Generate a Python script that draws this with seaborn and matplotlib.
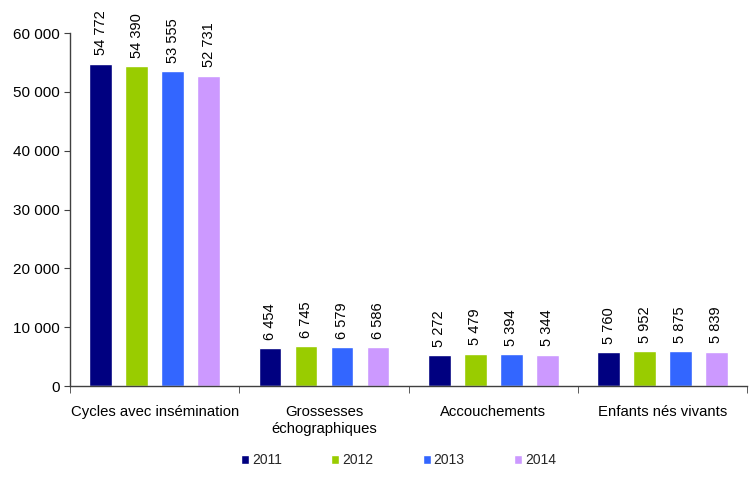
import matplotlib
matplotlib.use("Agg")
import matplotlib.pyplot as plt
import seaborn as sns
import pandas as pd
from matplotlib.ticker import FuncFormatter, FixedLocator

categories = ["Cycles avec insémination", "Grossesses\néchographiques", "Accouchements", "Enfants nés vivants"]
years = ["2011", "2012", "2013", "2014"]
v2011 = [54772, 6454, 5272, 5760]
v2012 = [54390, 6745, 5479, 5952]
v2013 = [53555, 6579, 5394, 5875]
v2014 = [52731, 6586, 5344, 5839]
colors = ["#000080", "#99CC00", "#3366FF", "#CC99FF"]

rows = []
for y, vals in zip(years, [v2011, v2012, v2013, v2014]):
    for c, v in zip(categories, vals):
        rows.append({"cat": c, "year": y, "value": v})
df = pd.DataFrame(rows)

sns.set_style("white")
plt.rcParams["font.family"] = ["Liberation Sans", "DejaVu Sans"]

fig = plt.figure(figsize=(7.49, 4.95), dpi=100)
ax = fig.add_axes([0.0935, 0.2202, 0.904, 0.7131])

sns.barplot(data=df, x="cat", y="value", hue="year", palette=colors,
            width=0.85, gap=0.37, ax=ax, legend=True, saturation=1)

def fmt(v):
    return f"{int(round(v)):,}".replace(",", " ")

for cont in ax.containers:
    ax.bar_label(cont, labels=[fmt(b.get_height()) for b in cont], rotation=90,
                 padding=6, fontsize=10.5, color="black")

ax.set_ylim(0, 60000)
ax.set_xlim(-0.5, 3.5)
ax.set_yticks(range(0, 60001, 10000))
ax.yaxis.set_major_formatter(FuncFormatter(lambda v, p: fmt(v)))
ax.set_xlabel("")
ax.set_ylabel("")
ax.tick_params(axis="y", labelsize=11, length=4, direction="out", left=True, colors="#404040", labelcolor="black")
ax.tick_params(axis="x", labelsize=10.7, length=0, pad=14, labelcolor="black")
ax.xaxis.set_minor_locator(FixedLocator([-0.5, 0.5, 1.5, 2.5, 3.5]))
ax.tick_params(axis="x", which="minor", length=5, bottom=True, color="#404040", direction="out")
for s in ["top", "right"]:
    ax.spines[s].set_visible(False)
for s in ["left", "bottom"]:
    ax.spines[s].set_color("#404040")
    ax.spines[s].set_linewidth(1)

h, l = ax.get_legend_handles_labels()
ax.get_legend().remove()
fig.legend(h, l, loc="center", bbox_to_anchor=(0.532, 0.07), ncol=4, frameon=False,
           fontsize=10, handlelength=0.6, handleheight=0.6, handletextpad=0.2, columnspacing=3.55)

fig.savefig("out.png", dpi=100)
